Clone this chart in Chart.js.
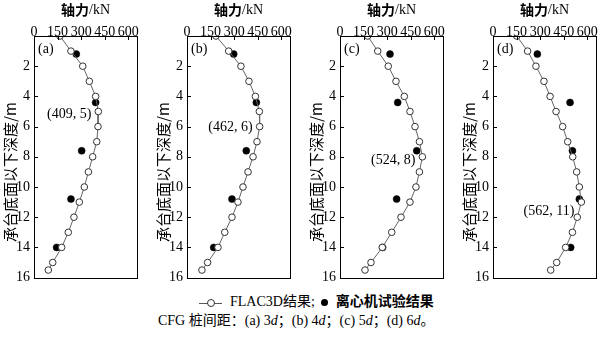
<!DOCTYPE html>
<html>
<head>
<meta charset="utf-8">
<script src="https://cdn.jsdelivr.net/npm/chart.js@4.4.0/dist/chart.umd.min.js"></script>
<style>
  html, body { margin: 0; padding: 0; background: #fff; }
  #wrap { position: relative; width: 600px; height: 338px; overflow: hidden; }
  canvas.panel { position: absolute; top: 0; }
  .txt { position: absolute; white-space: nowrap; color: #000;
         font-family: 'Liberation Serif', 'Times New Roman', 'Noto Sans CJK SC', serif; font-size: 14px; }
  .cjk { font-family: 'Noto Sans CJK SC', sans-serif; }
  .sym-line { display: inline-block; position: relative; width: 23px; height: 10px; vertical-align: middle; margin-right: 8px; }
  .sym-line::before { content: ''; position: absolute; left: 0; right: 0; top: 5px; border-top: 1px solid #555; }
  .sym-line::after { content: ''; position: absolute; left: 8px; top: 1px; width: 6px; height: 6px;
                     border: 1px solid #333; border-radius: 50%; background: #fff; }
  .sym-dot { display: inline-block; width: 7px; height: 7px; border-radius: 50%; background: #000;
             vertical-align: middle; margin: 0 8px 0 6px; }
</style>
</head>
<body>
<div id="wrap">
  <canvas id="pa" class="panel" width="153" height="290" style="left:0px"></canvas>
  <canvas id="pb" class="panel" width="153" height="290" style="left:153px"></canvas>
  <canvas id="pc" class="panel" width="153" height="290" style="left:306px"></canvas>
  <canvas id="pd" class="panel" width="153" height="290" style="left:459px"></canvas>
  <div class="txt" style="left:199px; top:290px; line-height:20px;">
    <span class="sym-line"></span>FLAC3D<span class="cjk">结果</span>;<span class="sym-dot"></span><span class="cjk" style="font-weight:700">离心机试验结果</span>
  </div>
  <div class="txt" style="left:158px; top:309px; line-height:20px;">
    CFG <span class="cjk">桩间距：</span>(a) 3<i>d</i><span class="cjk">；</span>(b) 4<i>d</i><span class="cjk">；</span>(c) 5<i>d</i><span class="cjk">；</span>(d) 6<i>d</i><span class="cjk">。</span>
  </div>
</div>
<script>
// Depth below the cap (m) of the numerical profile points
const flacDepth = [0, 1, 2, 3, 4, 5, 6, 7, 8, 9, 10, 11, 12, 13, 14, 15, 15.5];
// FLAC3D axial force (kN) for pile spacing 3d, 4d, 5d, 6d
const flacA = [165, 235, 310, 352, 392, 409, 407, 399, 373, 346, 320, 288, 254, 218, 176, 119, 91];
const flacB = [184, 265, 343, 394, 435, 460, 462, 445, 420, 388, 356, 324, 286, 240, 197, 131, 95];
const flacC = [176, 240, 307, 356, 409, 445, 477, 505, 524, 505, 483, 445, 388, 329, 269, 197, 159];
const flacD = [151, 220, 273, 324, 363, 401, 443, 475, 507, 532, 549, 562, 536, 505, 462, 405, 367];

// Centrifuge measurement depths (m) and axial force (kN)
const testDepth = [1.2, 4.4, 7.6, 10.8, 14.0];
const testA = [269, 392, 303, 235, 144];
const testB = [297, 441, 377, 286, 170];
const testC = [318, 367, 488, 360, 271];
const testD = [282, 490, 505, 549, 494];

// Peak values called out on each panel: [force kN, depth m]
const peakA = [409, 5];
const peakB = [462, 6];
const peakC = [524, 8];
const peakD = [562, 11];

// Axis ticks
const xTickValues = [0, 150, 300, 450, 600];
const yTickValues = [0, 2, 4, 6, 8, 10, 12, 14, 16];

const panelLabels = ['(a)', '(b)', '(c)', '(d)'];
const xTitleCjk = '轴力';
const xTitleUnit = '/kN';
const yTitle = '承台底面以下深度/m';

const SERIF = "'Liberation Serif', 'Times New Roman', serif";
const CJK = "'Noto Sans CJK SC', sans-serif";

// Per-panel vertical nudge of the peak callout text
const peakDy = [3, 1, 4, 9];

function pairs(xs, ys) { return xs.map((v, i) => ({ x: v, y: ys[i] })); }

const framePlugin = {
  id: 'frame',
  afterDraw(chart, args, opts) {
    const ctx = chart.ctx;
    const a = chart.chartArea;
    const xs = chart.scales.x, ys = chart.scales.y;
    ctx.save();
    // box
    ctx.strokeStyle = '#000';
    ctx.lineWidth = 1;
    ctx.strokeRect(Math.round(a.left) + 0.5, Math.round(a.top) + 0.5,
                   Math.round(a.right - a.left), Math.round(a.bottom - a.top));
    // inward tick marks
    const tl = 4;
    ctx.beginPath();
    xs.ticks.forEach(t => {
      if (t.value <= xs.min || t.value >= xs.max) return;
      const px = Math.round(xs.getPixelForValue(t.value)) + 0.5;
      ctx.moveTo(px, a.top); ctx.lineTo(px, a.top + tl);
    });
    ys.ticks.forEach(t => {
      if (t.value <= ys.min || t.value >= ys.max) return;
      const py = Math.round(ys.getPixelForValue(t.value)) + 0.5;
      ctx.moveTo(a.left, py); ctx.lineTo(a.left + tl, py);
    });
    ctx.stroke();

    ctx.fillStyle = '#000';
    // x title
    const cx = (a.left + a.right) / 2;
    ctx.textBaseline = 'middle';
    ctx.font = `bold 14px ${CJK}`;
    const w1 = ctx.measureText(xTitleCjk).width;
    ctx.font = `14px ${SERIF}`;
    const w2 = ctx.measureText(xTitleUnit).width;
    const x0 = cx - (w1 + w2) / 2;
    ctx.textAlign = 'left';
    ctx.font = `bold 14px ${CJK}`;
    ctx.fillText(xTitleCjk, x0, 10);
    ctx.font = `14px ${SERIF}`;
    ctx.fillText(xTitleUnit, x0 + w1, 10);

    // y title (rotated)
    ctx.save();
    ctx.translate(10, 172);
    ctx.rotate(-Math.PI / 2);
    ctx.font = `15px ${CJK}`;
    ctx.textAlign = 'center';
    ctx.fillText(yTitle, 0, 0);
    ctx.restore();

    // panel label
    ctx.font = `14px ${SERIF}`;
    ctx.textAlign = 'left';
    ctx.fillText(opts.label, a.left + 4, a.top + 13);

    // peak callout
    const pk = opts.peak;
    const ppx = xs.getPixelForValue(pk[0]);
    const ppy = ys.getPixelForValue(pk[1]);
    ctx.textAlign = 'right';
    ctx.fillText(`(${pk[0]}, ${pk[1]})`, ppx - 7, ppy + opts.dy);
    ctx.restore();
  }
};

function makePanel(id, flac, test, peak, idx) {
  new Chart(document.getElementById(id), {
    type: 'scatter',
    data: {
      datasets: [
        {
          label: '离心机试验结果',
          data: pairs(test, testDepth),
          showLine: false,
          pointRadius: 3.5,
          pointBackgroundColor: '#000',
          pointBorderColor: '#000',
          pointBorderWidth: 0.5,
          order: 2
        },
        {
          label: 'FLAC3D结果',
          data: pairs(flac, flacDepth),
          showLine: true,
          borderColor: '#666',
          borderWidth: 1,
          pointRadius: 3.3,
          pointBackgroundColor: '#fff',
          pointBorderColor: '#333',
          pointBorderWidth: 1,
          order: 1
        }
      ]
    },
    options: {
      responsive: false,
      animation: false,
      events: [],
      layout: { padding: { left: 0, right: 16, top: 0, bottom: 11 } },
      plugins: {
        legend: { display: false },
        tooltip: { enabled: false },
        frame: { label: panelLabels[idx], peak: peak, dy: peakDy[idx] }
      },
      scales: {
        x: {
          type: 'linear',
          position: 'top',
          min: 0,
          max: 655,
          afterBuildTicks: s => { s.ticks = xTickValues.map(v => ({ value: v })); },
          afterFit: s => { s.height = 36; },
          grid: { display: false, drawTicks: false },
          border: { display: false },
          ticks: { color: '#000', font: { family: SERIF, size: 14 }, padding: -5,
                   maxRotation: 0, autoSkip: false }
        },
        y: {
          type: 'linear',
          reverse: true,
          min: 0,
          max: 16,
          afterBuildTicks: s => { s.ticks = yTickValues.map(v => ({ value: v })); },
          afterFit: s => { s.width = 34; },
          grid: { display: false, drawTicks: false },
          border: { display: false },
          ticks: { color: '#000', font: { family: SERIF, size: 14 }, padding: 4,
                   autoSkip: false, callback: v => (v === 0 ? '' : String(v)) }
        }
      }
    },
    plugins: [framePlugin]
  });
}

makePanel('pa', flacA, testA, peakA, 0);
makePanel('pb', flacB, testB, peakB, 1);
makePanel('pc', flacC, testC, peakC, 2);
makePanel('pd', flacD, testD, peakD, 3);
</script>
</body>
</html>
